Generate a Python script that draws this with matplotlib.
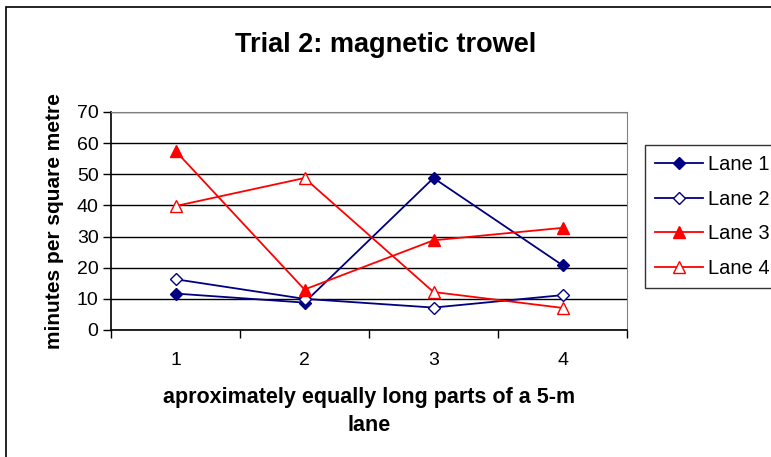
import matplotlib.pyplot as plt
from matplotlib.patches import Rectangle

parts = [1, 2, 3, 4]
lane1 = [11.7, 8.8, 48.8, 20.8]
lane2 = [16.3, 10.0, 7.2, 11.2]
lane3 = [57.5, 13.0, 28.8, 32.8]
lane4 = [39.8, 48.8, 12.2, 7.1]

plt.rcParams['font.family'] = ['Liberation Sans', 'DejaVu Sans']

fig = plt.figure(figsize=(7.71, 4.57), dpi=100)
fig.patches.append(Rectangle((6 / 771, -0.1), 1.2, 1.1 - 7 / 457, transform=fig.transFigure,
                             fill=False, edgecolor='black', linewidth=1.2))

ax = fig.add_axes([111 / 771, 1 - 330 / 457, 516 / 771, 218 / 457])

navy = '#000080'
red = '#FF0000'
ax.plot(parts, lane1, color=navy, marker='D', markersize=6, lw=1.3, label='Lane 1')
ax.plot(parts, lane2, color=navy, marker='D', markersize=6, lw=1.3, mfc='white',
        label='Lane 2')
ax.plot(parts, lane3, color=red, marker='^', markersize=8, lw=1.3, label='Lane 3')
ax.plot(parts, lane4, color=red, marker='^', markersize=8, lw=1.3, mfc='white',
        label='Lane 4')

ax.set_xlim(0.5, 4.5)
ax.set_ylim(0, 70)
ax.set_yticks(range(0, 71, 10))
ax.set_xticks(parts)
ax.set_xticks([0.5, 1.5, 2.5, 3.5, 4.5], minor=True)
ax.tick_params(axis='x', which='major', length=0, pad=16, labelsize=14)
ax.tick_params(axis='x', which='minor', length=6, width=1, direction='out')
ax.tick_params(axis='y', length=6, width=1, labelsize=14, pad=3)
ax.grid(axis='y', color='black', lw=1)
ax.set_axisbelow(True)
for s in ['top', 'right']:
    ax.spines[s].set_color('#808080')
for s in ['left', 'bottom']:
    ax.spines[s].set_color('black')
    ax.spines[s].set_linewidth(1.2)

ax.set_ylabel('minutes per square metre', fontsize=15, fontweight='bold', labelpad=9)
ax.set_xlabel('aproximately equally long parts of a 5-m\nlane', fontsize=15.5,
              fontweight='bold', labelpad=13, linespacing=1.45)
fig.text(0.5, 1 - 45 / 457, 'Trial 2: magnetic trowel', ha='center', va='center',
         fontsize=19.5, fontweight='bold')

leg = ax.legend(loc='upper left', bbox_to_anchor=(645 / 771, 1 - 145 / 457),
                bbox_transform=fig.transFigure, fontsize=14.5, frameon=True,
                fancybox=False, edgecolor='black', handlelength=2.4,
                handletextpad=0.25, labelspacing=0.78, borderpad=0.5,
                borderaxespad=0)
leg.get_frame().set_linewidth(1)

fig.savefig('out.png', dpi=100)
